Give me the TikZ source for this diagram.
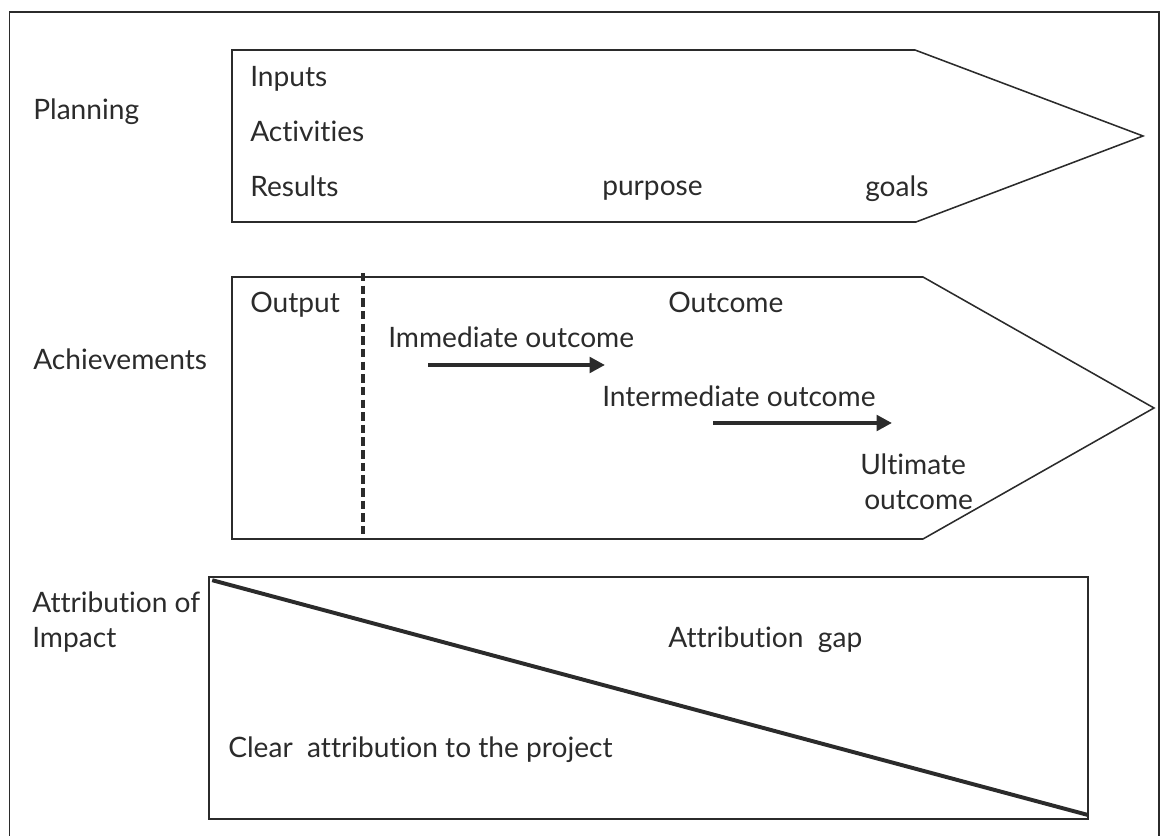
\documentclass[tikz,border=0pt]{standalone}
\usepackage{fontspec}
\setmainfont{Lato}[Ligatures={NoCommon,NoDiscretionary,NoContextual}]
\usetikzlibrary{arrows.meta}

\definecolor{inkgray}{HTML}{2b2b2b}

\tikzset{
  lbl/.style={anchor=base west, inner sep=0pt, text=inkgray, font=\fontsize{20}{24}\selectfont},
  frameline/.style={draw=inkgray, line width=1.1pt},
  stageline/.style={line width=3pt, draw=inkgray, -{Triangle[length=11pt, width=11pt]}}
}

\begin{document}
\begin{tikzpicture}
\useasboundingbox (0,0) rectangle (29.025,20.9);
\clip (0,0) rectangle (29.025,20.9);

% Outer frame
\draw[frameline] (0.24,-0.5) -- (0.24,20.6) -- (28.98,20.6) -- (28.98,-0.5);

% Row 1: planning arrow
\draw[frameline] (5.8,19.65) -- (22.875,19.65) -- (28.575,17.5) -- (22.9,15.35) -- (5.8,15.35) -- cycle;
\node[lbl] (planning) at (0.825,17.9) {Planning};
\node[lbl] (inputs) at (6.25,18.725) {Inputs};
\node[lbl] (activities) at (6.25,17.35) {Activities};
\node[lbl] (results) at (6.25,15.975) {Results};
\node[lbl] (purpose) at (15.05,16.0) {purpose};
\node[lbl] (goals) at (21.625,15.975) {goals};

% Row 2: achievements arrow
\draw[frameline] (5.8,13.975) -- (23.075,13.975) -- (28.85,10.7) -- (23.075,7.425) -- (5.8,7.425) -- cycle;
\draw[inkgray, line width=2.3pt, dash pattern=on 6pt off 3pt] (9.075,14.075) -- (9.075,7.425);
\node[lbl] (achievements) at (0.825,11.65) {Achievements};
\node[lbl] (output) at (6.25,13.075) {Output};
\node[lbl] (outcome) at (16.7,13.075) {Outcome};
\node[lbl] (immediate) at (9.7,12.2) {Immediate outcome};
\node[lbl] (intermediate) at (15.05,10.725) {Intermediate outcome};
\node[lbl] (ultimate) at (21.5,9.025) {Ultimate};
\node[lbl] (ultimatetwo) at (21.6,8.15) {outcome};

\coordinate (imfrom) at (10.7,11.775);
\coordinate (imto) at (15.125,11.775);
\coordinate (infrom) at (17.825,10.325);
\coordinate (into) at (22.3,10.325);
\draw[stageline] (imfrom) -- (imto);
\draw[stageline] (infrom) -- (into);

% Row 3: attribution of impact
\coordinate (attnw) at (5.225,6.475);
\coordinate (attse) at (27.2,0.425);
\draw[frameline] (attnw) rectangle (attse);
\draw[inkgray, line width=2.8pt] ([shift={(0.08,-0.08)}]attnw) -- ([shift={(0,0.1)}]attse);
\node[lbl] (attribution) at (0.8,5.575) {Attribution of};
\node[lbl] (impact) at (0.8,4.7) {Impact};
\node[lbl] (gap) at (16.7,4.7) {Attribution~~gap};
\node[lbl] (clear) at (5.7,1.95) {Clear~~attribution to the project};
\end{tikzpicture}
\end{document}
